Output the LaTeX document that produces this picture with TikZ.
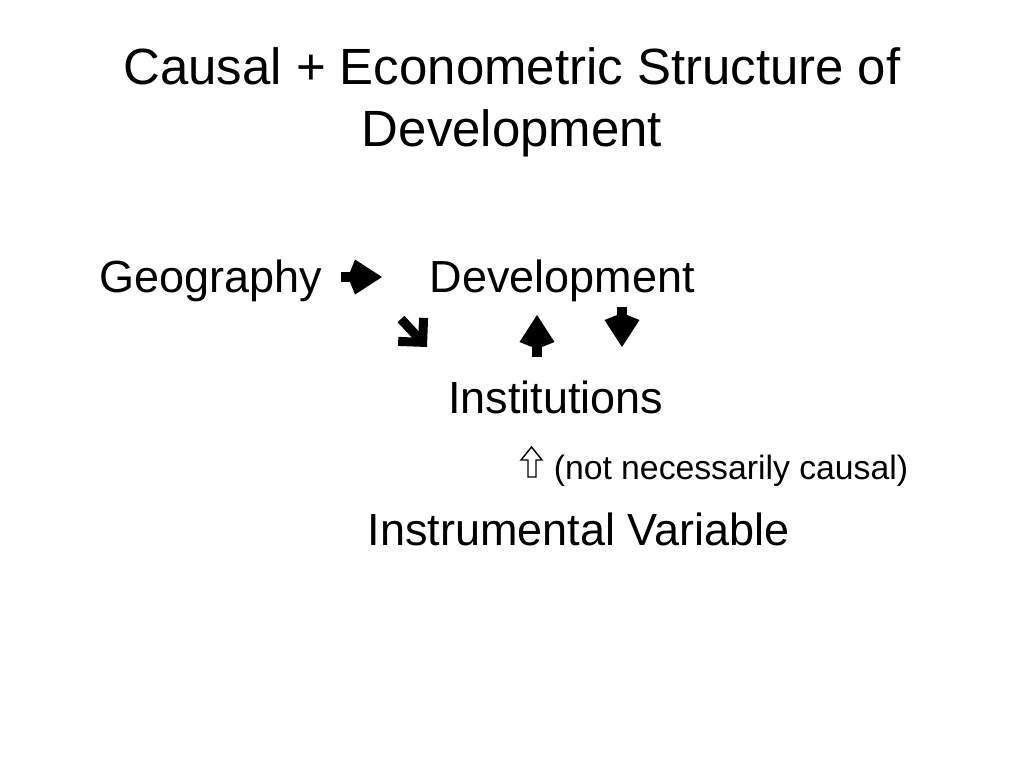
\documentclass[tikz,border=0pt]{standalone}
\usepackage{fontspec}
\setmainfont{Liberation Sans}
\usepackage{tikz}

\tikzset{
  heavyhead/.pic={\fill (0,0) -- (-27,-17.5) -- (-32,-5) -- (-32,5) -- (-27,17.5) -- cycle;},
  cornerhead/.pic={\fill (0,0) -- (-20.5,-20.5) -- (-26.9,-14.1) -- (-12.7,0)
    -- (-26.9,14.1) -- (-20.5,20.5) -- cycle;}
}

\begin{document}
\begin{tikzpicture}[
  x=0.75pt, y=-0.75pt,
  heading/.style={inner sep=0pt, anchor=base, font=\fontsize{38.2}{46}\selectfont},
  term/.style={inner sep=0pt, anchor=base west, font=\fontsize{33.75}{40}\selectfont},
  remark/.style={inner sep=0pt, anchor=base west, font=\fontsize{25.3}{30}\selectfont},
  shaft/.style={line width=7.5pt, shorten >=15pt},
  hollow/.style={line width=1.1pt, line join=miter}
]
\useasboundingbox (0,0) rectangle (1024,768);

\node[heading] (title) at (512,84) {Causal + Econometric Structure of};
\node[heading] (title2) at (512,146) {Development};

\node[term] (geo) at (99,292) {Geography};
\node[term] (dev) at (429.5,292) {Development};
\node[term] (inst) at (448,413) {Institutions};
\node[remark] (note) at (553.5,479) {(not necessarily causal)};
\node[term] (iv) at (367.5,545) {Instrumental Variable};

% arrow ends
\coordinate (geo-out) at (341,277);
\coordinate (dev-in) at (382,277);
\coordinate (geo-down) at (401,319);
\coordinate (inst-in) at (427,347);
\coordinate (inst-up) at (537,357);
\coordinate (dev-under) at (537,315);
\coordinate (dev-down) at (622,307);
\coordinate (inst-top) at (622,347);
\coordinate (iv-up) at (531.5,447);

\draw[shaft] (geo-out) -- (dev-in) pic[pos=1, sloped, allow upside down] {heavyhead};
\draw[shaft, line width=7pt, shorten >=7.5pt] (geo-down) -- (inst-in)
  pic[pos=1, sloped, allow upside down] {cornerhead};
\draw[shaft] (inst-up) -- (dev-under) pic[pos=1, sloped, allow upside down] {heavyhead};
\draw[shaft] (dev-down) -- (inst-top) pic[pos=1, sloped, allow upside down] {heavyhead};

% open arrow from the instrument
\draw[hollow, shift={(iv-up)}] (0,0) -- (10.5,13) -- (4.5,13) -- (4.5,30)
  -- (-3.5,30) -- (-3.5,13) -- (-10.5,13) -- cycle;
\end{tikzpicture}
\end{document}
